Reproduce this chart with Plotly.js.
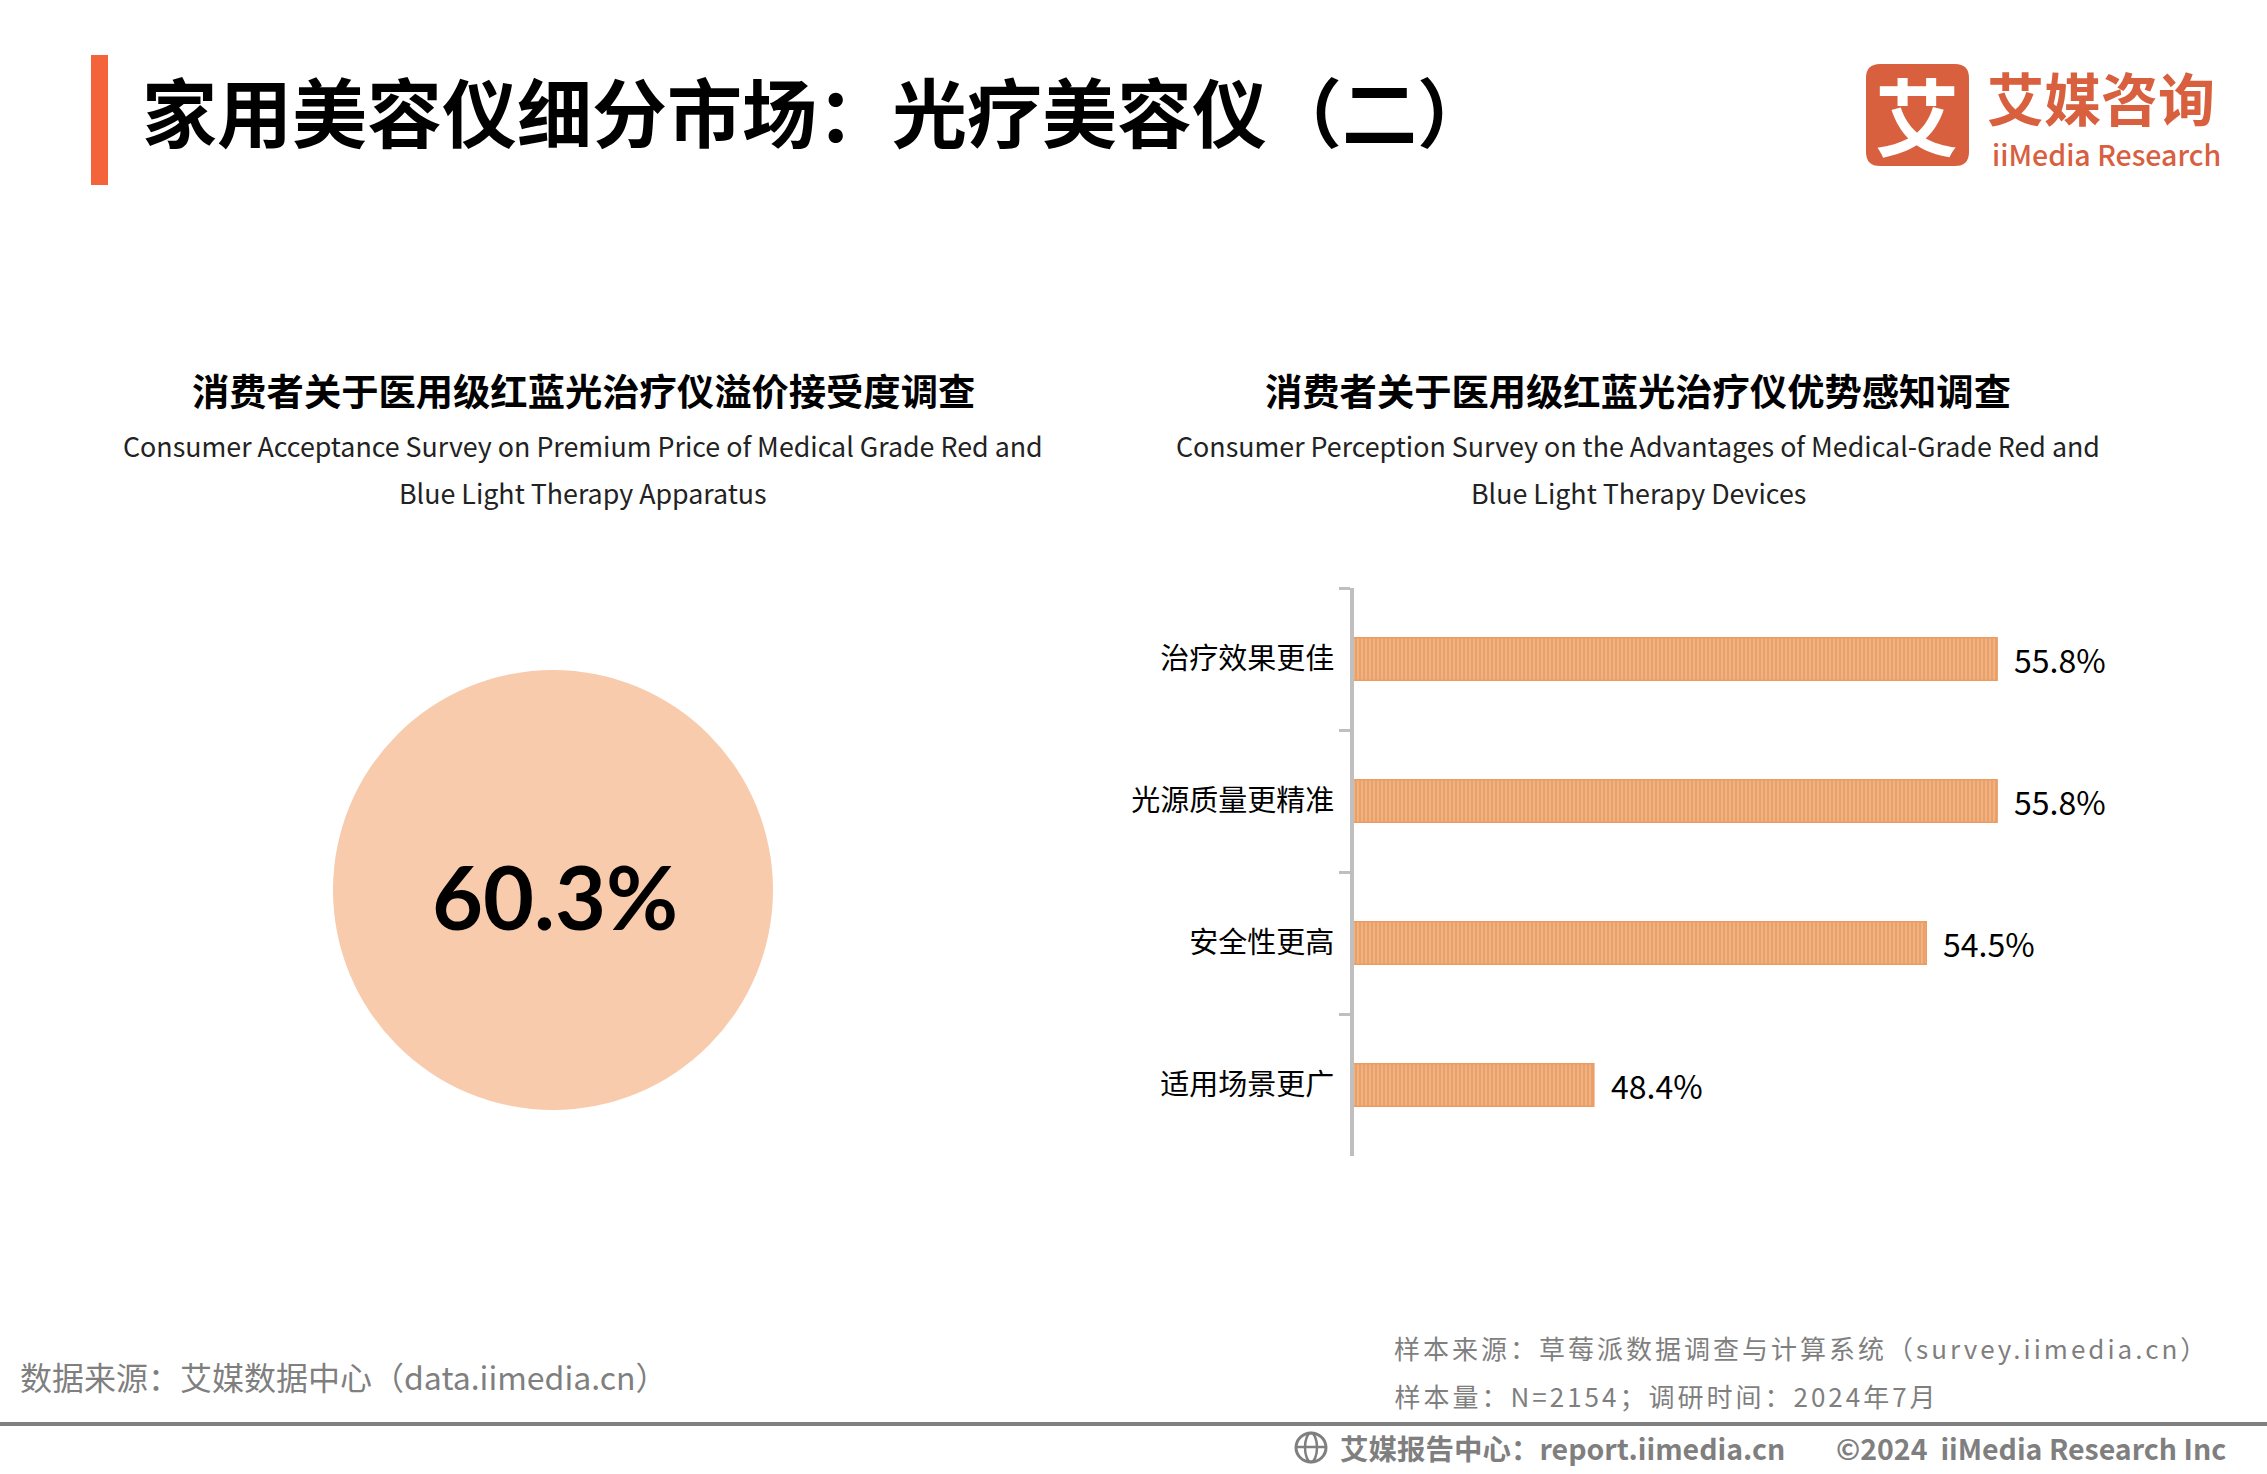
<!DOCTYPE html>
<html>
<head>
<meta charset="utf-8">
<script src="https://cdn.plot.ly/plotly-3.0.1.min.js"></script>
<style>
html,body{margin:0;padding:0;background:#fff;}
#chart{width:2267px;height:1474px;}
</style>
</head>
<body>
<div id="chart"></div>
<script>
// ---- data ----
const pageTitle = "家用美容仪细分市场：光疗美容仪（二）";
const leftTitleCN = "消费者关于医用级红蓝光治疗仪溢价接受度调查";
const leftTitleEN = ["Consumer Acceptance Survey on Premium Price of Medical Grade Red and", "Blue Light Therapy Apparatus"];
const rightTitleCN = "消费者关于医用级红蓝光治疗仪优势感知调查";
const rightTitleEN = ["Consumer Perception Survey on the Advantages of Medical-Grade Red and", "Blue Light Therapy Devices"];
const acceptValue = [60.3];
const advantageCategories = ["治疗效果更佳", "光源质量更精准", "安全性更高", "适用场景更广"];
const advantageValues = [55.8, 55.8, 54.5, 48.4];
const sourceLeft = "数据来源：艾媒数据中心（data.iimedia.cn）";
const sourceRight = ["样本来源：草莓派数据调查与计算系统（survey.iimedia.cn）", "样本量：N=2154；调研时间：2024年7月"];
const footerLeft = "艾媒报告中心：report.iimedia.cn";
const footerRight = "©2024  iiMedia Research Inc";

// ---- helpers ----
const W = 2267, H = 1474;
const X = px => px / W;
const Y = py => 1 - py / H;
const CJK = '"Noto Sans CJK SC", "Noto Sans", sans-serif';

const annotations = [];
const letterSpaced = [];
function addText(text, x, y, opts) {
  opts = opts || {};
  const a = {
    text: text, x: X(x), y: Y(y), xref: 'paper', yref: 'paper',
    showarrow: false, xanchor: opts.xanchor || 'left', yanchor: 'middle',
    font: {family: opts.family || CJK, size: opts.size || 28, color: opts.color || '#000', weight: opts.weight || 400}
  };
  if (opts.spacing) {
    // plotly measures the text without the css letter-spacing; compensate half the extra width
    a.xshift = [...text].length * opts.spacing / 2;
  }
  annotations.push(a);
  if (opts.spacing) letterSpaced.push([annotations.length - 1, opts.spacing]);
}

// header
addText(pageTitle, 140, 110, {size: 75, weight: 700, color: '#000'});
// logo
addText("艾", 1917, 113, {xanchor: 'center', size: 84, weight: 700, color: '#fff'});
addText("艾媒咨询", 1985, 96, {size: 57, weight: 700, color: '#D9603F'});
addText("iiMedia Research", 1990, 153, {size: 28.5, weight: 500, color: '#D9603F'});

// sub-chart titles
addText(leftTitleCN, 583, 390, {xanchor: 'center', size: 37.3, weight: 700});
addText(leftTitleEN[0], 583, 445, {xanchor: 'center', size: 26.8, color: '#222'});
addText(leftTitleEN[1], 583, 493, {xanchor: 'center', size: 26.8, color: '#222'});
addText(rightTitleCN, 1638, 390, {xanchor: 'center', size: 37.3, weight: 700});
addText(rightTitleEN[0], 1638, 445, {xanchor: 'center', size: 26.8, color: '#222'});
addText(rightTitleEN[1], 1638, 493, {xanchor: 'center', size: 26.8, color: '#222'});

// circle value
addText(acceptValue[0].toFixed(1) + '%', 555, 896, {xanchor: 'center', size: 88, weight: 700, family: 'Lato, "Noto Sans CJK SC", sans-serif'});

// bar value labels
advantageCategories.forEach((c, i) => {
  annotations.push({
    text: advantageValues[i].toFixed(1) + '%', x: advantageValues[i], y: c,
    xref: 'x', yref: 'y', xanchor: 'left', yanchor: 'middle', xshift: 15, showarrow: false,
    font: {family: CJK, size: 32, color: '#000'}
  });
});

// footer
addText(sourceLeft, 18, 1376, {size: 32, color: '#7F7F7F'});
addText(sourceRight[0], 1392, 1347, {size: 26, color: '#7F7F7F', spacing: 3});
addText(sourceRight[1], 1392, 1395, {size: 26, color: '#7F7F7F', spacing: 3});
addText(footerLeft, 1338, 1447, {size: 28.5, weight: 700, color: '#7F7F7F'});
addText(footerRight, 2228, 1447, {xanchor: 'right', size: 28.5, weight: 700, color: '#7F7F7F'});

// letter spacing css
const css = letterSpaced.map(([i, s]) => `.annotation[data-index="${i}"] text{letter-spacing:${s}px;}`).join('\n');
const st = document.createElement('style'); st.textContent = css; document.head.appendChild(st);

// shapes
function rrect(x0, y0, x1, y1, r) {
  const a = X(x0), b = X(x1), c = Y(y0), d = Y(y1);
  const rx = r / W, ry = r / H;
  return `M ${a + rx} ${c} L ${b - rx} ${c} Q ${b} ${c} ${b} ${c - ry} L ${b} ${d + ry} Q ${b} ${d} ${b - rx} ${d} L ${a + rx} ${d} Q ${a} ${d} ${a} ${d + ry} L ${a} ${c - ry} Q ${a} ${c} ${a + rx} ${c} Z`;
}
const shapes = [
  // title accent bar
  {type: 'rect', xref: 'paper', yref: 'paper', x0: X(91), x1: X(108), y0: Y(55), y1: Y(185), fillcolor: '#F4633A', line: {width: 0}},
  // logo square
  {type: 'path', xref: 'paper', yref: 'paper', path: rrect(1866, 64, 1969, 166, 14), fillcolor: '#D9603F', line: {width: 0}},
  // footer rule
  {type: 'line', xref: 'paper', yref: 'paper', x0: 0, x1: 1, y0: Y(1424), y1: Y(1424), line: {color: '#808080', width: 4}},
  // globe icon
  {type: 'circle', xref: 'paper', yref: 'paper', x0: X(1296), x1: X(1326), y0: Y(1433), y1: Y(1462), line: {color: '#7F7F7F', width: 3}},
  {type: 'circle', xref: 'paper', yref: 'paper', x0: X(1305), x1: X(1317), y0: Y(1433), y1: Y(1462), line: {color: '#7F7F7F', width: 2.5}},
  {type: 'line', xref: 'paper', yref: 'paper', x0: X(1296), x1: X(1326), y0: Y(1447), y1: Y(1447), line: {color: '#7F7F7F', width: 2.5}}
];

const traces = [
  {
    type: 'pie', values: acceptValue, labels: ['接受'], sort: false,
    marker: {colors: ['#F8CBAD'], line: {width: 0}},
    textinfo: 'none', hoverinfo: 'skip', showlegend: false,
    domain: {x: [X(333), X(773)], y: [Y(1110), Y(670)]}
  },
  {
    type: 'bar', orientation: 'h', y: advantageCategories, x: advantageValues,
    width: 0.3, hoverinfo: 'skip',
    marker: {color: '#EEAD7C', line: {color: '#EC9B62', width: 1.5},
             pattern: {shape: '|', fillmode: 'replace', bgcolor: '#EFB282', fgcolor: '#E99458', size: 4, solidity: 0.3}},
    xaxis: 'x', yaxis: 'y'
  }
];

const layout = {
  width: W, height: H, margin: {l: 0, r: 0, t: 0, b: 0},
  paper_bgcolor: '#fff', plot_bgcolor: 'rgba(0,0,0,0)', showlegend: false,
  xaxis: {domain: [X(1354), X(2226)], range: [44, 60], visible: false, fixedrange: true},
  yaxis: {
    domain: [Y(1156), Y(588)], type: 'category', categoryorder: 'array', categoryarray: advantageCategories,
    range: [3.5, -0.5], tickson: 'boundaries', ticks: 'outside', ticklen: 11, tickwidth: 3, tickcolor: '#BFBFBF',
    showline: true, linecolor: '#BFBFBF', linewidth: 4, showgrid: false, zeroline: false,
    ticklabelstandoff: 10, tickfont: {family: CJK, size: 29, color: '#000'}, fixedrange: true
  },
  annotations: annotations, shapes: shapes
};

Plotly.newPlot('chart', traces, layout, {displayModeBar: false, staticPlot: true});
</script>
</body>
</html>
